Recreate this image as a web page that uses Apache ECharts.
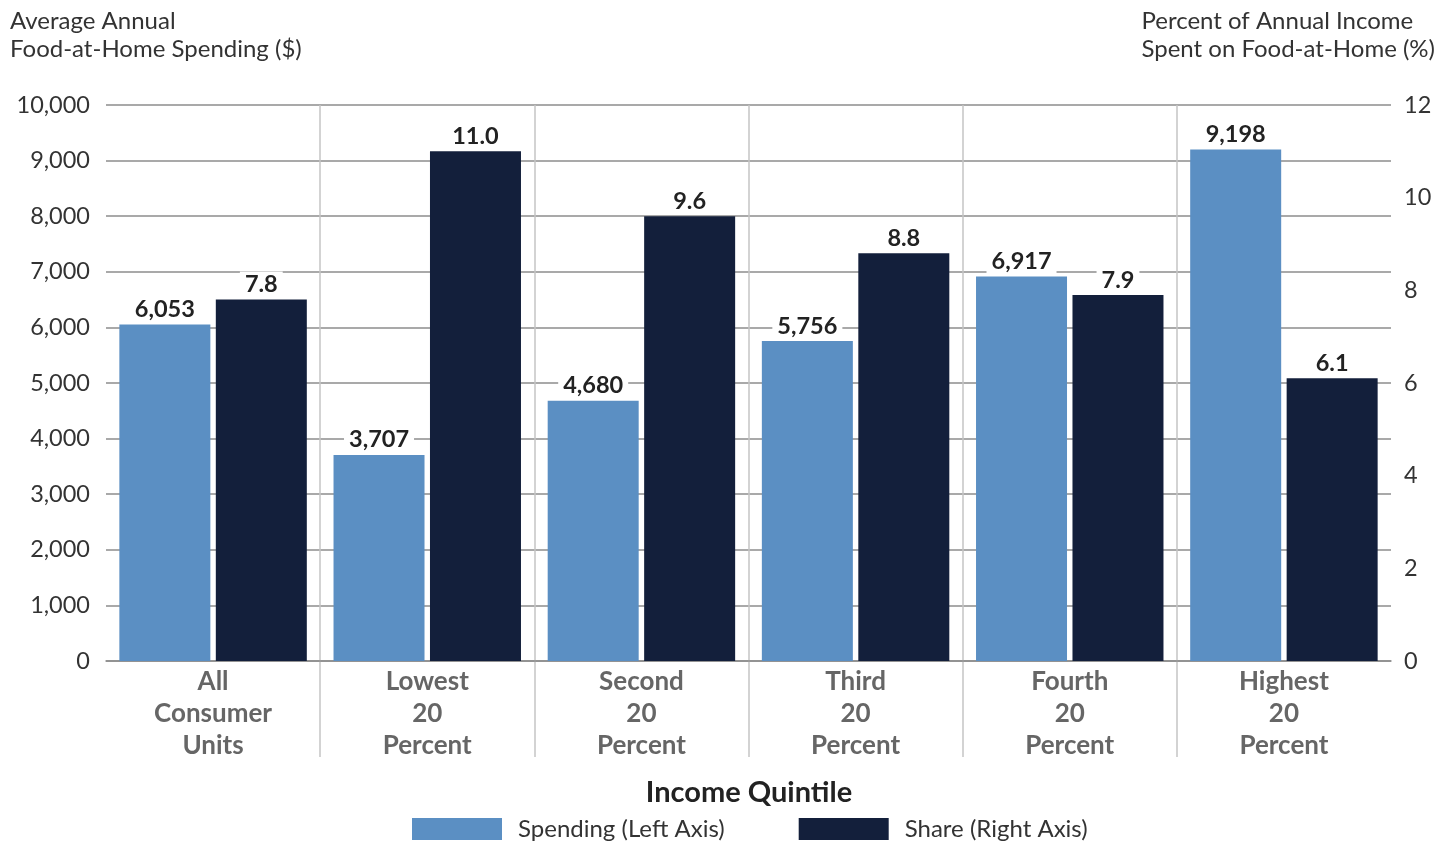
<!DOCTYPE html>
<html>
<head>
<meta charset="utf-8">
<script src="https://cdn.jsdelivr.net/npm/echarts@6/dist/echarts.min.js"></script>
<style>
html,body{margin:0;padding:0;background:#fff;}
#chart{width:1453px;height:843px;}
</style>
</head>
<body>
<div id="chart"></div>
<script>
const categories = ['All\nConsumer\nUnits', 'Lowest\n20\nPercent', 'Second\n20\nPercent', 'Third\n20\nPercent', 'Fourth\n20\nPercent', 'Highest\n20\nPercent'];
const spending = [6053, 3707, 4680, 5756, 6917, 9198];
const share = [7.8, 11.0, 9.6, 8.8, 7.9, 6.1];
const leftTicks = { min: 0, max: 10000, interval: 1000 };
const rightTicks = { min: 0, max: 12, interval: 2 };

const FONT = 'Lato';
const chart = echarts.init(document.getElementById('chart'));
const labelCommon = {
  show: true, position: 'top', distance: 3,
  fontFamily: FONT, fontSize: 23.5, fontWeight: 'bold', color: '#222',
  backgroundColor: '#fff', padding: [1, 5, 0, 5]
};
chart.setOption({
  animation: false,
  textStyle: { fontFamily: FONT },
  title: [
    { text: 'Average Annual\nFood-at-Home Spending ($)', left: 5, top: 2,
      textStyle: { fontFamily: FONT, fontSize: 24, fontWeight: 'normal', color: '#333', lineHeight: 28 } },
    { text: 'Percent of Annual Income\nSpent on Food-at-Home (%)', right: 13, top: 2,
      textStyle: { fontFamily: FONT, fontSize: 24, fontWeight: 'normal', color: '#333', lineHeight: 28 } },
    { text: 'Income Quintile', left: 744, textAlign: 'center', top: 773,
      textStyle: { fontFamily: FONT, fontSize: 29, fontWeight: 'bold', color: '#222' } }
  ],
  legend: {
    top: 812, left: 407, itemWidth: 90, itemHeight: 22, itemGap: 74,
    icon: 'rect',
    textStyle: { fontFamily: FONT, fontSize: 24, color: '#333', padding: [0, 0, 0, 11] },
    data: ['Spending (Left Axis)', 'Share (Right Axis)']
  },
  grid: [
    { left: 106, right: 62, top: 105, bottom: 182 },
    { left: 106, right: 62, top: 105, bottom: 86 }
  ],
  xAxis: [
    { type: 'category', gridIndex: 0, data: categories,
      axisLine: { show: true, lineStyle: { color: '#8c8c8c', width: 1.5 } },
      axisTick: { show: false },
      axisLabel: { interval: 0, margin: 5, fontFamily: FONT, fontSize: 26, fontWeight: 'bold', color: '#666', lineHeight: 32 },
      splitLine: { show: false } },
    { type: 'category', gridIndex: 1, data: categories,
      axisLine: { show: false }, axisTick: { show: false }, axisLabel: { show: false },
      splitLine: { show: true, showMinLine: false, showMaxLine: false, lineStyle: { color: '#c4c4c4', width: 1.5 } } }
  ],
  yAxis: [
    { type: 'value', gridIndex: 0, min: leftTicks.min, max: leftTicks.max, interval: leftTicks.interval,
      axisLine: { show: false }, axisTick: { show: false },
      axisLabel: { margin: 16, fontFamily: FONT, fontSize: 23.5, color: '#333',
        formatter: v => v.toLocaleString('en-US') },
      splitLine: { show: true, lineStyle: { color: '#8c8c8c', width: 1.5 } } },
    { type: 'value', gridIndex: 0, position: 'right', min: rightTicks.min, max: rightTicks.max, interval: rightTicks.interval,
      axisLine: { show: false }, axisTick: { show: false },
      axisLabel: { margin: 13, fontFamily: FONT, fontSize: 23.5, color: '#333' },
      splitLine: { show: false } },
    { type: 'value', gridIndex: 1, show: false }
  ],
  series: [
    { name: 'Spending (Left Axis)', type: 'bar', xAxisIndex: 0, yAxisIndex: 0, data: spending,
      barWidth: 91, barGap: '6%', itemStyle: { color: '#5b8fc3' },
      label: Object.assign({}, labelCommon, { formatter: p => p.value.toLocaleString('en-US') }) },
    { name: 'Share (Right Axis)', type: 'bar', xAxisIndex: 0, yAxisIndex: 1, data: share,
      barWidth: 91, barGap: '6%', itemStyle: { color: '#131f3b' },
      label: Object.assign({}, labelCommon, { formatter: p => p.value.toFixed(1) }) }
  ]
});
</script>
</body>
</html>
